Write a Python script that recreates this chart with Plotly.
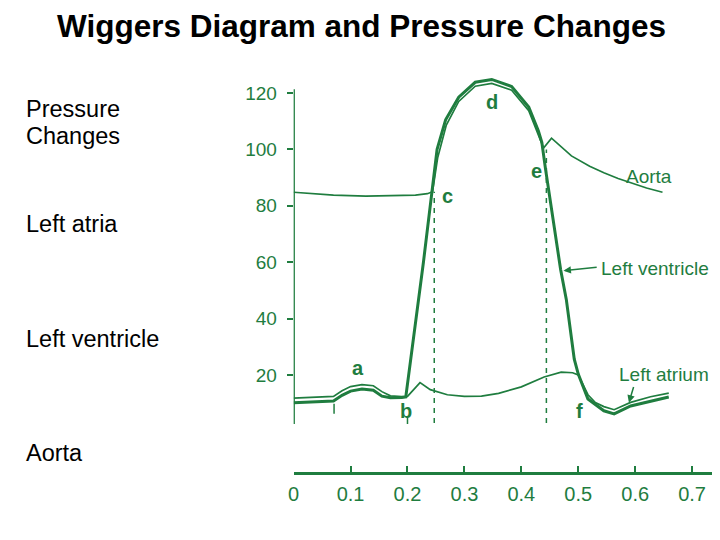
import plotly.graph_objects as go

# ---------------- data ----------------
# time (s) and pressure (mmHg)
lv_t = [0, 0.07, 0.085, 0.1, 0.12, 0.14, 0.155, 0.17, 0.19, 0.197, 0.228, 0.244, 0.252, 0.267,
        0.29, 0.319, 0.348, 0.383, 0.413, 0.43, 0.436, 0.4425, 0.456, 0.469, 0.479, 0.493, 0.5,
        0.517, 0.545, 0.563, 0.592, 0.627, 0.659]
lv_p = [10.2, 10.8, 12.8, 14.3, 15.0, 14.6, 12.5, 11.9, 12.0, 12.2, 60, 86, 100, 110.5,
        118.5, 123.8, 124.8, 122.3, 115, 106.5, 102.5, 93, 75, 57.4, 46.8, 25.6, 20.3,
        11.5, 7.3, 6.2, 9.0, 10.8, 12.2]

la_t = [0, 0.07, 0.085, 0.1, 0.12, 0.14, 0.155, 0.17, 0.19, 0.2, 0.222, 0.24, 0.27, 0.30,
        0.33, 0.36, 0.40, 0.44, 0.47, 0.49, 0.50, 0.517, 0.53, 0.545, 0.563, 0.592, 0.627, 0.659]
la_p = [11.8, 12.4, 14.4, 15.9, 16.6, 16.2, 14.1, 12.6, 12.3, 12.4, 17.3, 14.8, 13.0, 12.4,
        12.5, 13.5, 15.8, 19.3, 21.0, 20.8, 20.0, 13.0, 10.2, 8.8, 7.7, 10.3, 12.3, 13.6]

ao_t = [0, 0.035, 0.07, 0.127, 0.17, 0.214, 0.235, 0.244, 0.253, 0.268, 0.29, 0.319, 0.348,
        0.383, 0.413, 0.43, 0.436, 0.439, 0.453, 0.462, 0.488, 0.52, 0.545, 0.57, 0.592, 0.62, 0.648]
ao_p = [84.8, 84.3, 83.8, 83.4, 83.5, 83.8, 84.3, 85.0, 97, 108.5, 117, 122.4, 123.4,
        121, 113.7, 105.2, 101.8, 100.5, 104, 102.3, 97.7, 94, 91.7, 89.7, 88.1, 86.3, 84.8]

# event markers (s)
event_times = [0.247, 0.444]      # dashed lines (c, e)
event_tops = [85, 100]
small_ticks = [0.071, 0.2]

x_ticks = [0, 0.1, 0.2, 0.3, 0.4, 0.5, 0.6, 0.7]
x_tick_text = ["0", "0.1", "0.2", "0.3", "0.4", "0.5", "0.6", "0.7"]
y_ticks = [20, 40, 60, 80, 100, 120]

point_labels = ["a", "b", "c", "d", "e", "f"]
point_x = [0.113, 0.197, 0.27, 0.348, 0.427, 0.502]
point_y = [22.5, 7.3, 83.6, 116.8, 92.4, 7.3]

side_labels = ["Pressure", "Changes", "Left atria", "Left ventricle", "Aorta"]

GREEN = "#1f7d3f"
FONT = "Liberation Sans, Arial, sans-serif"

OFF = 8  # page body margin


def px(x):
    return (x - OFF) / 720


def py(y):
    return 1 - (y - OFF) / 540


Y_LO, Y_HI = 2.6, 127.0
Y0_PIX, Y_SCALE = 431.4, 2.82

fig = go.Figure()
fig.add_trace(go.Scatter(x=ao_t, y=ao_p, mode="lines", line=dict(color=GREEN, width=1.7),
                         hoverinfo="skip"))
fig.add_trace(go.Scatter(x=la_t, y=la_p, mode="lines", line=dict(color=GREEN, width=1.7),
                         hoverinfo="skip"))
fig.add_trace(go.Scatter(x=lv_t, y=lv_p, mode="lines", line=dict(color=GREEN, width=3.0),
                         hoverinfo="skip"))

# y axis line (stops at the 120 tick, curves may rise above it)
fig.add_shape(type="line", xref="x", yref="y", x0=0, x1=0, y0=Y_LO, y1=121.3,
              line=dict(color=GREEN, width=2.5))

# dashed event lines
for t, top in zip(event_times, event_tops):
    fig.add_shape(type="line", xref="x", yref="y", x0=t, x1=t, y0=3, y1=top,
                  line=dict(color=GREEN, width=1.5, dash="5px,5px"))
fig.add_shape(type="line", xref="x", yref="y", x0=small_ticks[0], x1=small_ticks[0], y0=6.3, y1=9.8,
              line=dict(color=GREEN, width=1.5))
fig.add_shape(type="line", xref="x", yref="y", x0=small_ticks[1], x1=small_ticks[1], y0=2.6, y1=5.5,
              line=dict(color=GREEN, width=1.5))

# point labels
for s, x, y in zip(point_labels, point_x, point_y):
    fig.add_annotation(x=x, y=y, xref="x", yref="y", text=f"<b>{s}</b>", showarrow=False,
                       font=dict(family=FONT, size=20, color=GREEN))

# curve labels
fig.add_annotation(x=0.581, y=90.3, xref="x", yref="y", text="Aorta", showarrow=False,
                   xanchor="left", font=dict(family=FONT, size=19, color=GREEN))
fig.add_annotation(x=0.537, y=57.8, xref="x", yref="y", text="Left ventricle", showarrow=False,
                   xanchor="left", font=dict(family=FONT, size=19, color=GREEN))
fig.add_annotation(x=0.568, y=20.3, xref="x", yref="y", text="Left atrium", showarrow=False,
                   xanchor="left", font=dict(family=FONT, size=19, color=GREEN))
# arrows
fig.add_annotation(x=0.474, y=57, xref="x", yref="y", ax=0.535, ay=58.3, axref="x", ayref="y",
                   text="", showarrow=True, arrowhead=2, arrowsize=1, arrowwidth=1.5,
                   arrowcolor=GREEN)
fig.add_annotation(x=0.589, y=10.2, xref="x", yref="y", ax=0.598, ay=16.3, axref="x", ayref="y",
                   text="", showarrow=True, arrowhead=2, arrowsize=1, arrowwidth=1.5,
                   arrowcolor=GREEN)

# slide texts
side_y = [109, 136, 224, 339, 453]
for s, yy in zip(side_labels, side_y):
    fig.add_annotation(x=px(18), y=py(yy), xref="paper", yref="paper", text=s,
                       showarrow=False, xanchor="left", yanchor="middle",
                       font=dict(family=FONT, size=23.5, color="black"))

fig.add_annotation(x=px(358), y=py(26), xref="paper", yref="paper",
                   text="<b>Wiggers Diagram and Pressure Changes</b>", showarrow=False,
                   xanchor="center", yanchor="middle",
                   font=dict(family=FONT, size=31.5, color="black"))

fig.update_layout(
    width=720, height=540,
    margin=dict(l=0, r=0, t=0, b=0),
    paper_bgcolor="white", plot_bgcolor="white",
    showlegend=False, hovermode=False,
    xaxis=dict(domain=[px(290), px(715)], range=[0, 425 / 574], anchor="free",
               position=py(473.3), showgrid=False, zeroline=False,
               showline=True, linecolor=GREEN, linewidth=2.5,
               ticks="inside", ticklen=7, tickwidth=2, tickcolor=GREEN,
               tickvals=x_ticks, ticktext=x_tick_text, ticklabelstandoff=2,
               tickfont=dict(family=FONT, size=20, color=GREEN)),
    yaxis=dict(domain=[py(Y0_PIX - Y_SCALE * Y_LO), py(Y0_PIX - Y_SCALE * Y_HI)],
               range=[Y_LO, Y_HI], anchor="x",
               showgrid=False, zeroline=False, showline=False,
               ticks="outside", ticklen=6, tickwidth=2, tickcolor=GREEN,
               tickvals=y_ticks, ticklabelstandoff=6,
               tickfont=dict(family=FONT, size=19, color=GREEN)),
)

fig.write_html("out.html", config={"displayModeBar": False})
